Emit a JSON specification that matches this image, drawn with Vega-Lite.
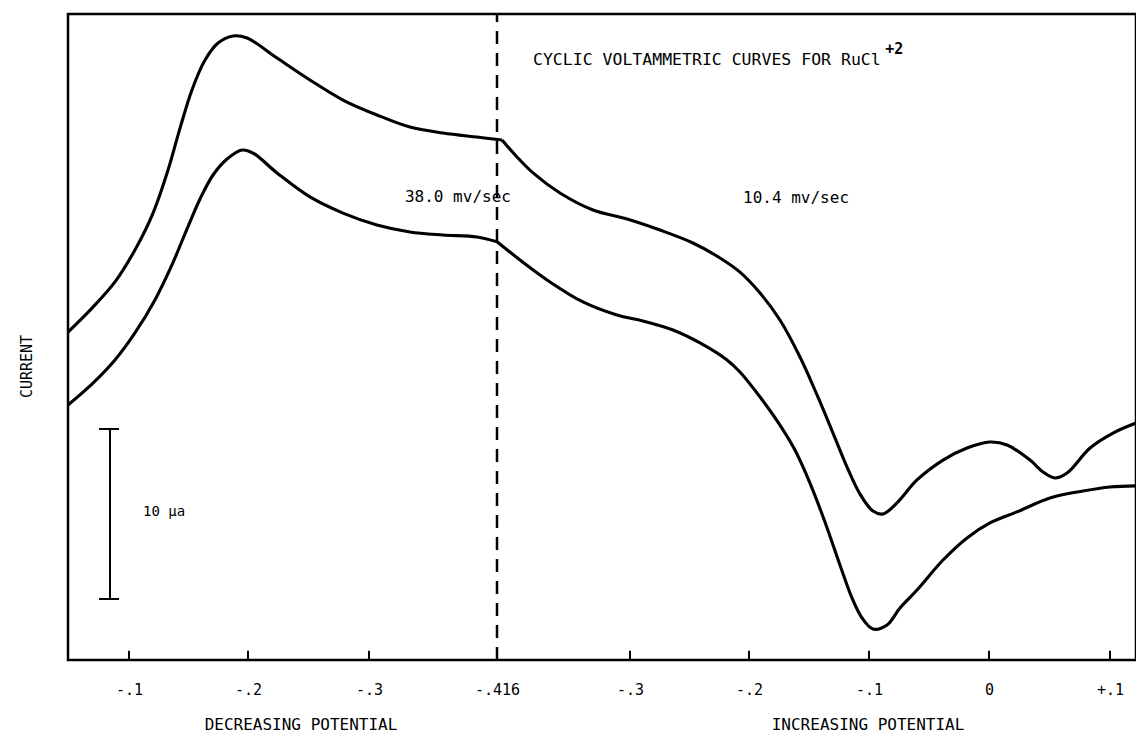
{
  "$schema": "https://vega.github.io/schema/vega-lite/v6.json",
  "width": 1068,
  "height": 646,
  "autosize": {"type": "none"},
  "padding": {"left": 68, "top": 14, "right": 0, "bottom": 74},
  "background": "white",
  "config": {
    "view": {"stroke": "black", "strokeWidth": 2.5},
    "font": "DejaVu Sans Mono",
    "text": {"font": "DejaVu Sans Mono", "color": "black"}
  },
  "datasets": {
    "curves": [
      {"sweep": "upper-decreasing", "u": 0.0487, "current": 19.29},
      {"sweep": "upper-decreasing", "u": 0.0697, "current": 20.76},
      {"sweep": "upper-decreasing", "u": 0.0882, "current": 22.24},
      {"sweep": "upper-decreasing", "u": 0.105, "current": 24.12},
      {"sweep": "upper-decreasing", "u": 0.1202, "current": 26.29},
      {"sweep": "upper-decreasing", "u": 0.1328, "current": 28.82},
      {"sweep": "upper-decreasing", "u": 0.1429, "current": 31.29},
      {"sweep": "upper-decreasing", "u": 0.1529, "current": 33.53},
      {"sweep": "upper-decreasing", "u": 0.1639, "current": 35.29},
      {"sweep": "upper-decreasing", "u": 0.1748, "current": 36.29},
      {"sweep": "upper-decreasing", "u": 0.1874, "current": 36.71},
      {"sweep": "upper-decreasing", "u": 0.1992, "current": 36.59},
      {"sweep": "upper-decreasing", "u": 0.224, "current": 35.41},
      {"sweep": "upper-decreasing", "u": 0.2512, "current": 34.12},
      {"sweep": "upper-decreasing", "u": 0.2785, "current": 32.94},
      {"sweep": "upper-decreasing", "u": 0.3072, "current": 32.06},
      {"sweep": "upper-decreasing", "u": 0.3371, "current": 31.35},
      {"sweep": "upper-decreasing", "u": 0.367, "current": 31.0},
      {"sweep": "upper-decreasing", "u": 0.3978, "current": 30.76},
      {"sweep": "upper-decreasing", "u": 0.4204, "current": 30.59},
      {"sweep": "upper-increasing", "u": 0.4204, "current": 30.59},
      {"sweep": "upper-increasing", "u": 0.4334, "current": 29.59},
      {"sweep": "upper-increasing", "u": 0.4474, "current": 28.65},
      {"sweep": "upper-increasing", "u": 0.4709, "current": 27.47},
      {"sweep": "upper-increasing", "u": 0.4997, "current": 26.47},
      {"sweep": "upper-increasing", "u": 0.5294, "current": 25.94},
      {"sweep": "upper-increasing", "u": 0.5572, "current": 25.29},
      {"sweep": "upper-increasing", "u": 0.5849, "current": 24.53},
      {"sweep": "upper-increasing", "u": 0.6076, "current": 23.65},
      {"sweep": "upper-increasing", "u": 0.6244, "current": 22.82},
      {"sweep": "upper-increasing", "u": 0.6412, "current": 21.59},
      {"sweep": "upper-increasing", "u": 0.6578, "current": 20.0},
      {"sweep": "upper-increasing", "u": 0.6745, "current": 17.82},
      {"sweep": "upper-increasing", "u": 0.6887, "current": 15.59},
      {"sweep": "upper-increasing", "u": 0.702, "current": 13.35},
      {"sweep": "upper-increasing", "u": 0.7137, "current": 11.35},
      {"sweep": "upper-increasing", "u": 0.7245, "current": 9.76},
      {"sweep": "upper-increasing", "u": 0.7353, "current": 8.76},
      {"sweep": "upper-increasing", "u": 0.7437, "current": 8.59},
      {"sweep": "upper-increasing", "u": 0.7553, "current": 9.24},
      {"sweep": "upper-increasing", "u": 0.772, "current": 10.59},
      {"sweep": "upper-increasing", "u": 0.7937, "current": 11.76},
      {"sweep": "upper-increasing", "u": 0.8137, "current": 12.47},
      {"sweep": "upper-increasing", "u": 0.8328, "current": 12.82},
      {"sweep": "upper-increasing", "u": 0.8469, "current": 12.65},
      {"sweep": "upper-increasing", "u": 0.8659, "current": 11.76},
      {"sweep": "upper-increasing", "u": 0.8766, "current": 11.06},
      {"sweep": "upper-increasing", "u": 0.8865, "current": 10.71},
      {"sweep": "upper-increasing", "u": 0.8965, "current": 11.0},
      {"sweep": "upper-increasing", "u": 0.9155, "current": 12.47},
      {"sweep": "upper-increasing", "u": 0.9345, "current": 13.35},
      {"sweep": "upper-increasing", "u": 0.9535, "current": 13.94},
      {"sweep": "lower-decreasing", "u": 0.0487, "current": 15.0},
      {"sweep": "lower-decreasing", "u": 0.0697, "current": 16.29},
      {"sweep": "lower-decreasing", "u": 0.0882, "current": 17.65},
      {"sweep": "lower-decreasing", "u": 0.105, "current": 19.24},
      {"sweep": "lower-decreasing", "u": 0.1218, "current": 21.18},
      {"sweep": "lower-decreasing", "u": 0.1361, "current": 23.24},
      {"sweep": "lower-decreasing", "u": 0.1487, "current": 25.35},
      {"sweep": "lower-decreasing", "u": 0.1597, "current": 27.12},
      {"sweep": "lower-decreasing", "u": 0.1706, "current": 28.53},
      {"sweep": "lower-decreasing", "u": 0.1824, "current": 29.47},
      {"sweep": "lower-decreasing", "u": 0.195, "current": 30.0},
      {"sweep": "lower-decreasing", "u": 0.2041, "current": 29.82},
      {"sweep": "lower-decreasing", "u": 0.224, "current": 28.65},
      {"sweep": "lower-decreasing", "u": 0.2512, "current": 27.24},
      {"sweep": "lower-decreasing", "u": 0.2785, "current": 26.29},
      {"sweep": "lower-decreasing", "u": 0.3072, "current": 25.59},
      {"sweep": "lower-decreasing", "u": 0.3371, "current": 25.18},
      {"sweep": "lower-decreasing", "u": 0.367, "current": 25.0},
      {"sweep": "lower-decreasing", "u": 0.3978, "current": 24.88},
      {"sweep": "lower-decreasing", "u": 0.416, "current": 24.6},
      {"sweep": "lower-increasing", "u": 0.416, "current": 24.6},
      {"sweep": "lower-increasing", "u": 0.4361, "current": 23.53},
      {"sweep": "lower-increasing", "u": 0.4622, "current": 22.24},
      {"sweep": "lower-increasing", "u": 0.491, "current": 21.06},
      {"sweep": "lower-increasing", "u": 0.5206, "current": 20.29},
      {"sweep": "lower-increasing", "u": 0.5429, "current": 19.94},
      {"sweep": "lower-increasing", "u": 0.5681, "current": 19.41},
      {"sweep": "lower-increasing", "u": 0.5908, "current": 18.65},
      {"sweep": "lower-increasing", "u": 0.6135, "current": 17.65},
      {"sweep": "lower-increasing", "u": 0.6244, "current": 16.94},
      {"sweep": "lower-increasing", "u": 0.6412, "current": 15.47},
      {"sweep": "lower-increasing", "u": 0.6578, "current": 13.82},
      {"sweep": "lower-increasing", "u": 0.6703, "current": 12.35},
      {"sweep": "lower-increasing", "u": 0.6828, "current": 10.41},
      {"sweep": "lower-increasing", "u": 0.6953, "current": 8.12},
      {"sweep": "lower-increasing", "u": 0.7078, "current": 5.59},
      {"sweep": "lower-increasing", "u": 0.7178, "current": 3.65},
      {"sweep": "lower-increasing", "u": 0.7262, "current": 2.47},
      {"sweep": "lower-increasing", "u": 0.7353, "current": 1.82},
      {"sweep": "lower-increasing", "u": 0.747, "current": 2.06},
      {"sweep": "lower-increasing", "u": 0.7578, "current": 3.06},
      {"sweep": "lower-increasing", "u": 0.772, "current": 4.12},
      {"sweep": "lower-increasing", "u": 0.7937, "current": 5.88},
      {"sweep": "lower-increasing", "u": 0.8137, "current": 7.18},
      {"sweep": "lower-increasing", "u": 0.8328, "current": 8.06},
      {"sweep": "lower-increasing", "u": 0.8551, "current": 8.71},
      {"sweep": "lower-increasing", "u": 0.8824, "current": 9.53},
      {"sweep": "lower-increasing", "u": 0.9097, "current": 9.94},
      {"sweep": "lower-increasing", "u": 0.932, "current": 10.18},
      {"sweep": "lower-increasing", "u": 0.9535, "current": 10.24}
    ],
    "ticks": [
      {"u": 0.1}, {"u": 0.2}, {"u": 0.3}, {"u": 0.416}, {"u": 0.532},
      {"u": 0.632}, {"u": 0.732}, {"u": 0.832}, {"u": 0.932}
    ]
  },
  "layer": [
    {
      "data": {"name": "curves"},
      "mark": {"type": "line", "interpolate": "catmull-rom", "color": "black", "strokeWidth": 3.1},
      "encoding": {
        "x": {
          "field": "u",
          "type": "quantitative",
          "scale": {
            "domain": [0.0487, 0.1, 0.2, 0.3, 0.416, 0.532, 0.632, 0.732, 0.832, 0.932, 0.9535],
            "range": [0, 61, 180, 301, 429, 562, 681, 801, 921, 1042, 1068],
            "nice": false,
            "zero": false
          },
          "axis": {
            "values": [0.1, 0.2, 0.3, 0.416, 0.532, 0.632, 0.732, 0.832, 0.932],
            "labelExpr": "datum.value < 0.15 ? '-.1' : datum.value < 0.25 ? '-.2' : datum.value < 0.35 ? '-.3' : datum.value < 0.45 ? '-.416' : datum.value < 0.58 ? '-.3' : datum.value < 0.68 ? '-.2' : datum.value < 0.78 ? '-.1' : datum.value < 0.88 ? '0' : '+.1'",
            "title": null,
            "grid": false,
            "domain": false,
            "ticks": false,
            "labelPadding": 22,
            "labelFont": "DejaVu Sans Mono",
            "labelFontSize": 15,
            "labelColor": "black",
            "labelFlush": false,
            "labelOverlap": false
          }
        },
        "y": {
          "field": "current",
          "type": "quantitative",
          "scale": {"domain": [0, 38], "nice": false, "zero": false},
          "axis": {
            "title": "CURRENT",
            "labels": false,
            "ticks": false,
            "grid": false,
            "domain": false,
            "titleFont": "DejaVu Sans Mono",
            "titleFontSize": 15,
            "titleFontWeight": "normal",
            "titleColor": "black",
            "titlePadding": 34,
            "titleY": 352
          }
        },
        "detail": {"field": "sweep"}
      }
    },
    {
      "data": {"name": "ticks"},
      "mark": {"type": "rule", "color": "black", "strokeWidth": 2},
      "encoding": {"x": {"field": "u", "type": "quantitative"}, "y": {"datum": 0}, "y2": {"datum": 0.55}}
    },
    {
      "data": {"values": [{}]},
      "mark": {"type": "rule", "color": "black", "strokeWidth": 2.5, "strokeDash": [13, 9]},
      "encoding": {"x": {"datum": 0.416}, "y": {"datum": 0}, "y2": {"datum": 38}}
    },
    {
      "data": {"values": [{}]},
      "mark": {"type": "rule", "color": "black", "strokeWidth": 2},
      "encoding": {"x": {"datum": 0.084}, "y": {"datum": 3.59}, "y2": {"datum": 13.59}}
    },
    {
      "data": {"values": [{}]},
      "mark": {"type": "rule", "color": "black", "strokeWidth": 2},
      "encoding": {"x": {"datum": 0.0748}, "x2": {"datum": 0.0916}, "y": {"datum": 13.59}}
    },
    {
      "data": {"values": [{}]},
      "mark": {"type": "rule", "color": "black", "strokeWidth": 2},
      "encoding": {"x": {"datum": 0.0748}, "x2": {"datum": 0.0916}, "y": {"datum": 3.59}}
    },
    {
      "data": {"values": [{}]},
      "mark": {"type": "text", "align": "left", "baseline": "middle", "fontSize": 14},
      "encoding": {"x": {"datum": 0.1118}, "y": {"datum": 8.71}, "text": {"value": "10 µa"}}
    },
    {
      "data": {"values": [{}]},
      "mark": {"type": "text", "align": "left", "baseline": "middle", "fontSize": 16.5},
      "encoding": {"x": {"datum": 0.4474}, "y": {"datum": 35.29}, "text": {"value": "CYCLIC VOLTAMMETRIC CURVES FOR RuCl"}}
    },
    {
      "data": {"values": [{}]},
      "mark": {"type": "text", "align": "left", "baseline": "middle", "fontSize": 15, "fontWeight": "bold"},
      "encoding": {"x": {"datum": 0.7455}, "y": {"datum": 35.95}, "text": {"value": "+2"}}
    },
    {
      "data": {"values": [{}]},
      "mark": {"type": "text", "align": "center", "baseline": "middle", "fontSize": 16},
      "encoding": {"x": {"datum": 0.3806}, "y": {"datum": 27.24}, "text": {"value": "38.0 mv/sec"}}
    },
    {
      "data": {"values": [{}]},
      "mark": {"type": "text", "align": "center", "baseline": "middle", "fontSize": 16},
      "encoding": {"x": {"datum": 0.6712}, "y": {"datum": 27.18}, "text": {"value": "10.4 mv/sec"}}
    },
    {
      "data": {"values": [{}]},
      "mark": {"type": "text", "align": "center", "baseline": "middle", "fontSize": 16},
      "encoding": {"x": {"datum": 0.2438}, "y": {"datum": -3.85}, "text": {"value": "DECREASING POTENTIAL"}}
    },
    {
      "data": {"values": [{}]},
      "mark": {"type": "text", "align": "center", "baseline": "middle", "fontSize": 16},
      "encoding": {"x": {"datum": 0.7312}, "y": {"datum": -3.85}, "text": {"value": "INCREASING POTENTIAL"}}
    }
  ]
}
